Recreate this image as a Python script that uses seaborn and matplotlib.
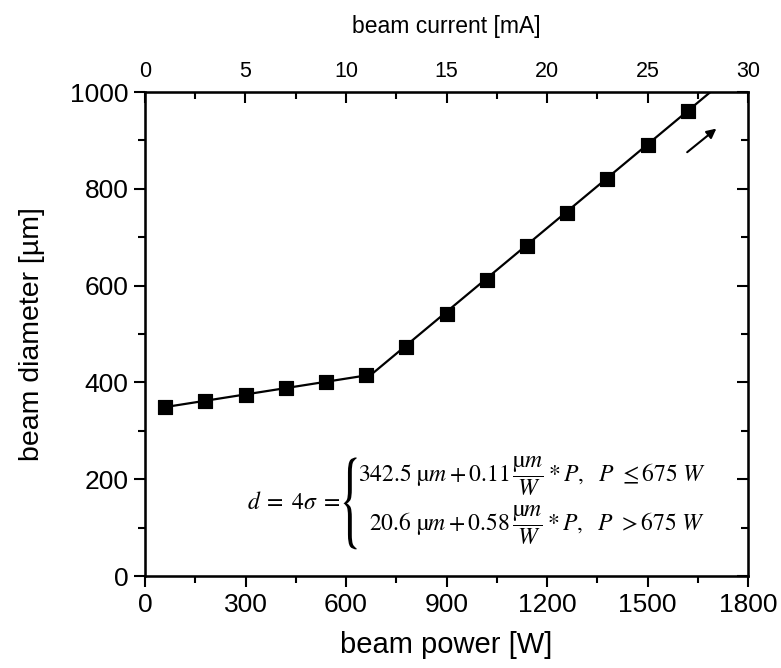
import numpy as np
import pandas as pd
import seaborn as sns
from matplotlib import pyplot as plt
from matplotlib.ticker import MultipleLocator
from matplotlib.textpath import TextPath
from matplotlib.patches import PathPatch
from matplotlib.font_manager import FontProperties
from matplotlib.transforms import Affine2D, ScaledTranslation

# measured points
beam_power = [60, 180, 300, 420, 540, 660, 780, 900, 1020, 1140, 1260, 1380, 1500, 1620]
beam_diameter = [350, 362, 375, 388, 401, 415, 473, 542, 612, 681, 751, 820, 890, 960]

# piecewise fit line
fit_power = [60, 675, 1740]
fit_diameter = [349, 416, 1030]

xticks = [0, 300, 600, 900, 1200, 1500, 1800]
yticks = [0, 200, 400, 600, 800, 1000]
current_ticks = [0, 5, 10, 15, 20, 25, 30]

sns.set_style('ticks')
plt.rcParams['font.family'] = ['Liberation Sans', 'DejaVu Sans']
plt.rcParams['mathtext.fontset'] = 'stix'
# plain black everywhere, like the original
for key in ['text.color', 'axes.labelcolor', 'xtick.color', 'ytick.color', 'axes.edgecolor']:
    plt.rcParams[key] = 'black'

fig = plt.figure(figsize=(7.81, 6.68), dpi=100)
ax = fig.add_axes([145 / 781, 1 - 576 / 668, 603 / 781, 484 / 668])

df_pts = pd.DataFrame({'power': beam_power, 'diameter': beam_diameter})
df_fit = pd.DataFrame({'power': fit_power, 'diameter': fit_diameter})

sns.lineplot(data=df_fit, x='power', y='diameter', ax=ax, color='black', linewidth=1.6)
sns.scatterplot(data=df_pts, x='power', y='diameter', ax=ax, color='black', marker='s',
                s=110, edgecolor='black', zorder=3)

ax.set_xlim(0, 1800)
ax.set_ylim(0, 1000)
ax.set_xticks(xticks)
ax.set_yticks(yticks)
ax.xaxis.set_minor_locator(MultipleLocator(150))
ax.yaxis.set_minor_locator(MultipleLocator(100))
# left / bottom ticks point out
ax.tick_params(which='major', direction='out', length=8, width=1.5, labelsize=19, pad=4)
ax.tick_params(which='minor', direction='out', length=5, width=1.5)
ax.set_xlabel('beam power [W]', fontsize=21, labelpad=10)
ax.set_ylabel('beam diameter [µm]', fontsize=20.5, labelpad=18)
for s in ax.spines.values():
    s.set_linewidth(1.8)

# right axis: mirrored ticks pointing in
axr = ax.twinx()
axr.set_ylim(0, 1000)
axr.set_yticks(yticks)
axr.yaxis.set_minor_locator(MultipleLocator(100))
axr.tick_params(which='major', direction='in', length=8, width=1.5, labelright=False)
axr.tick_params(which='minor', direction='in', length=5, width=1.5)

# top axis: beam current, ticks pointing in
ax2 = ax.twiny()
ax2.set_xlim(0, 30)
ax2.set_xticks(current_ticks)
ax2.xaxis.set_minor_locator(MultipleLocator(2.5))
ax2.tick_params(which='major', direction='in', length=8, width=1.5, labelsize=15.5, pad=7)
ax2.tick_params(which='minor', direction='in', length=5, width=1.5)
ax2.set_xlabel('beam current [mA]', fontsize=16.5, labelpad=20)

# arrow
ax.annotate('', xy=(1712, 928), xytext=(1612, 872),
            arrowprops=dict(arrowstyle='-|>', color='black', lw=1.5, mutation_scale=14))

# fit formula
ax.text(303, 150, r'$d\;=\;4\sigma\;=$', fontsize=17, ha='left', va='center')
ax.text(636, 205, r'$342.5\ \mathrm{µ}m+0.11\,\dfrac{\mathrm{µ}m}{W}*P,\ \ P\ \leq 675\ W$',
        fontsize=17, ha='left', va='center')
ax.text(670, 105, r'$20.6\ \mathrm{µ}m+0.58\,\dfrac{\mathrm{µ}m}{W}*P,\ \ P\ >675\ W$',
        fontsize=17, ha='left', va='center')

# tall thin brace
tp = TextPath((0, 0), '{', size=20, prop=FontProperties(family='STIXGeneral'))
ext = tp.get_extents()
sx = 13 / ext.width
sy = 92 / ext.height
brace_tr = (Affine2D().translate(-ext.x0 - ext.width / 2, -ext.y0 - ext.height / 2)
            .scale(sx, sy) + ScaledTranslation(612, 150, ax.transData))
ax.add_patch(PathPatch(tp, transform=brace_tr, color='black', lw=0))

plt.savefig('out.png', dpi=100)
